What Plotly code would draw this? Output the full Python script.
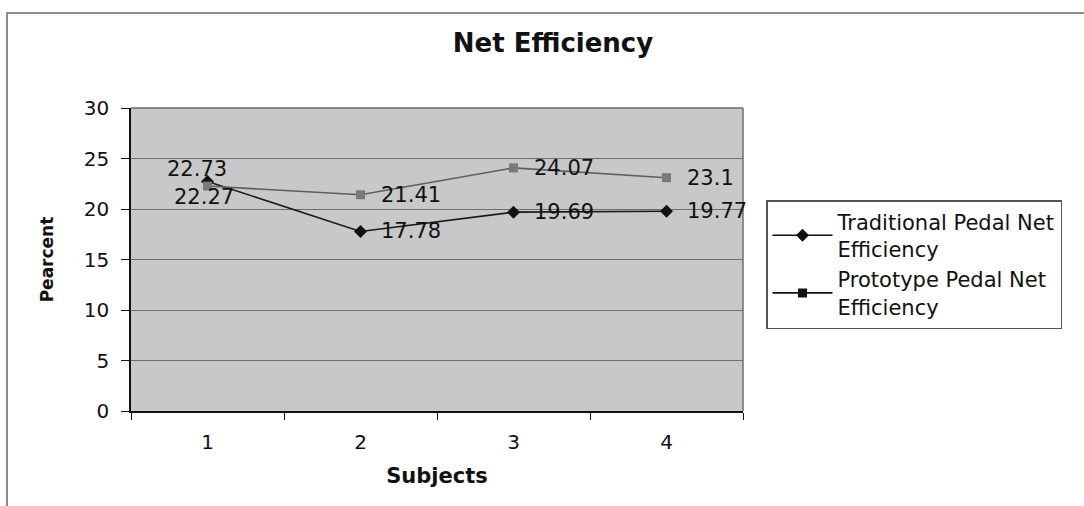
import plotly.graph_objects as go

# Net efficiency per subject for the two pedal designs
subjects = ["1", "2", "3", "4"]
traditional = [22.73, 17.78, 19.69, 19.77]
prototype = [22.27, 21.41, 24.07, 23.10]
y_ticks = [0, 5, 10, 15, 20, 25, 30]

W, H = 1084, 506
L, R, T, B = 131, 743, 108, 411   # plot area in pixels


def px_x(x):
    return (x - L) / (R - L)


def px_y(y):
    return (B - y) / (B - T)


FONT = "DejaVu Sans, Liberation Sans, Arial"
LABEL_FONT = dict(family=FONT, size=21, color="#111")

fig = go.Figure()

fig.add_trace(go.Scatter(
    x=subjects, y=traditional, mode="lines+markers",
    line=dict(color="#1a1a1a", width=1.6),
    marker=dict(symbol="diamond", size=10, color="#111"),
    showlegend=False, cliponaxis=False,
))
fig.add_trace(go.Scatter(
    x=subjects, y=prototype, mode="lines+markers",
    line=dict(color="#5e5e5e", width=1.6),
    marker=dict(symbol="square", size=9, color="#7a7a7a"),
    showlegend=False, cliponaxis=False,
))

# legend entries drawn in black
fig.add_trace(go.Scatter(
    x=[None], y=[None], mode="lines+markers",
    name="Traditional Pedal Net<br>Efficiency",
    line=dict(color="#111", width=1.6),
    marker=dict(symbol="diamond", size=10, color="#111"),
))
fig.add_trace(go.Scatter(
    x=[None], y=[None], mode="lines+markers",
    name="Prototype Pedal Net<br>Efficiency",
    line=dict(color="#111", width=1.6),
    marker=dict(symbol="square", size=9, color="#111"),
))

# value labels: first subject stacked above/below, others to the right
# (annotation x on a category axis is the category's serial index)
annotations = []
for series, first_side in ((traditional, "above"), (prototype, "below")):
    for i, v in enumerate(series):
        a = dict(x=i, y=v, xref="x", yref="y", text=f"{v:g}",
                 showarrow=False, font=LABEL_FONT)
        if i == 0:
            if first_side == "above":
                a.update(xanchor="center", yanchor="middle", xshift=-11, yshift=12)
            else:
                a.update(xanchor="center", yanchor="middle", xshift=-4, yshift=-11)
        else:
            a.update(xanchor="left", yanchor="middle", xshift=18, yshift=0)
        annotations.append(a)

fig.update_layout(
    width=W, height=H,
    margin=dict(l=L, r=W - R, t=T, b=H - B),
    paper_bgcolor="white",
    plot_bgcolor="#c8c8c8",
    font=dict(family=FONT, color="#111"),
    annotations=annotations,
    title=dict(
        text="<b>Net Efficiency</b>",
        font=dict(family=FONT, size=26, color="#111"),
        x=553 / W, xanchor="center", xref="container",
        y=1 - 43 / H, yanchor="middle", yref="container",
    ),
    legend=dict(
        x=px_x(766), y=px_y(200), xanchor="left", yanchor="top",
        bgcolor="white", bordercolor="#555", borderwidth=1.5,
        font=dict(family=FONT, size=21, color="#111"),
        itemwidth=60, tracegroupgap=2,
    ),
    xaxis=dict(
        type="category", tickson="boundaries", range=[-0.5, 3.5],
        ticks="outside", ticklen=7, tickcolor="#111",
        showline=True, linecolor="#111", linewidth=1.5,
        showgrid=False, zeroline=False,
        tickfont=dict(family=FONT, size=20, color="#111"),
        ticklabelstandoff=12,
        title=dict(text="<b>Subjects</b>", standoff=16,
                   font=dict(family=FONT, size=21, color="#111")),
    ),
    yaxis=dict(
        range=[0, 30], tickvals=y_ticks,
        ticks="outside", ticklen=8, tickcolor="#111",
        showline=True, linecolor="#111", linewidth=1.5,
        showgrid=True, gridcolor="#6e6e6e", gridwidth=1,
        zeroline=False,
        tickfont=dict(family=FONT, size=20, color="#111"),
        ticklabelstandoff=8,
        title=dict(text="<b>Pearcent</b>", standoff=26,
                   font=dict(family=FONT, size=17, color="#111")),
    ),
    shapes=[
        # right edge of the plot area
        dict(type="line", xref="paper", yref="paper", x0=1, x1=1, y0=0, y1=1,
             line=dict(color="#6e6e6e", width=1.5)),
        # top edge of the plot area
        dict(type="line", xref="paper", yref="paper", x0=0, x1=1, y0=1, y1=1,
             line=dict(color="#6e6e6e", width=1.5)),
        # chart frame
        dict(type="rect", xref="paper", yref="paper",
             x0=px_x(7), x1=px_x(1095), y0=px_y(515), y1=px_y(13),
             line=dict(color="#666", width=1.5), layer="below"),
    ],
)

fig.write_html("out.html")
